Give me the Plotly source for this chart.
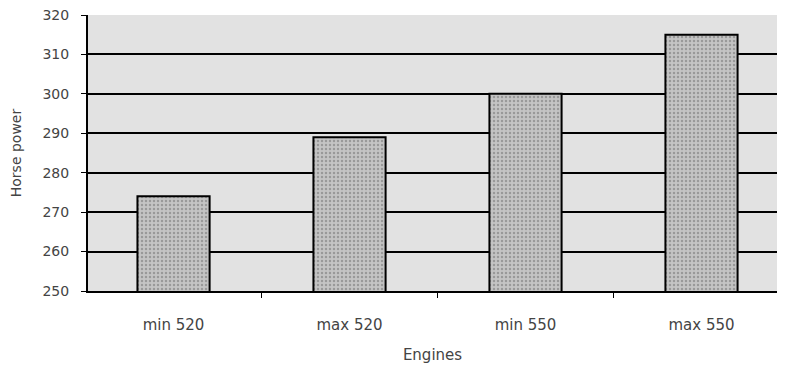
import plotly.graph_objects as go

categories = ["min 520", "max 520", "min 550", "max 550"]
horse_power = [274, 289, 300, 315]
y_ticks = [250, 260, 270, 280, 290, 300, 310, 320]

fig = go.Figure()
fig.add_trace(go.Bar(
    x=categories,
    y=horse_power,
    base=0,
    width=0.41,
    marker=dict(
        color="#b4b4b4",
        line=dict(color="black", width=2),
        pattern=dict(shape=".", fgcolor="#6e6e6e", bgcolor="#c4c4c4", size=4, solidity=0.3),
    ),
))

fig.update_layout(
    width=769, height=357,
    margin=dict(l=80, r=0, t=7, b=74),
    paper_bgcolor="white",
    plot_bgcolor="#e2e2e2",
    showlegend=False,
    font=dict(family="DejaVu Sans, Verdana, sans-serif", size=15, color="#444444"),
)
fig.update_yaxes(
    range=[250, 320],
    tickvals=y_ticks,
    showgrid=True, gridcolor="black", gridwidth=2,
    showline=True, linecolor="black", linewidth=2,
    ticks="outside", ticklen=5, tickcolor="black",
    ticklabelstandoff=9,
    ticklabeloverflow="allow",
    tickfont=dict(size=14),
    zeroline=False,
    title=dict(text="Horse power", standoff=18, font=dict(size=14)),
)
fig.update_xaxes(
    range=[-0.486, 3.429],
    showline=True, linecolor="black", linewidth=2,
    ticks="outside", tickson="boundaries", ticklen=5, tickcolor="black",
    ticklabelstandoff=19,
    title=dict(text="Engines", standoff=16, font=dict(size=15)),
)
fig.write_html("out.html")
